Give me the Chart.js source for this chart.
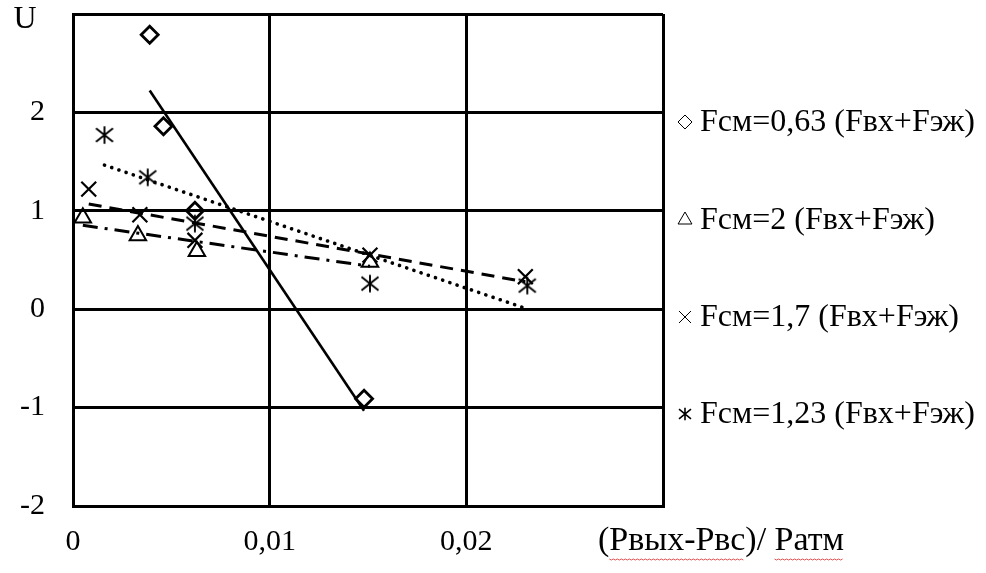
<!DOCTYPE html>
<html><head><meta charset="utf-8">
<script src="https://cdn.jsdelivr.net/npm/chart.js@4.4.0/dist/chart.umd.min.js"></script>
<style>html,body{margin:0;padding:0;background:#fff}canvas{display:block}</style>
</head><body>
<canvas id="c" width="986" height="573"></canvas>
<script>
// ---- data ----
const seriesLabels = ['Fсм=0,63 (Fвх+Fэж)', 'Fсм=2 (Fвх+Fэж)', 'Fсм=1,7 (Fвх+Fэж)', 'Fсм=1,23 (Fвх+Fэж)'];
const x063 = [0.0039, 0.0046, 0.0062, 0.0148];
const u063 = [2.79, 1.86, 1.00, -0.91];
const x2   = [0.0005, 0.0033, 0.0063, 0.0151];
const u2   = [0.93, 0.75, 0.59, 0.48];
const x17  = [0.0008, 0.0034, 0.0062, 0.0151, 0.0230];
const u17  = [1.22, 0.96, 0.70, 0.55, 0.33];
const x123 = [0.0016, 0.0038, 0.0062, 0.0151, 0.0231];
const u123 = [1.77, 1.34, 0.87, 0.26, 0.24];
const xTickValues = [0, 0.01, 0.02, 0.03];
const xTickLabels = ['0', '0,01', '0,02', ''];
const yTickValues = [-2, -1, 0, 1, 2, 3];
const yTickLabels = ['-2', '-1', '0', '1', '2', ''];
const xTitle = '(Рвых-Рвс)/ Ратм';
const yTitle = 'U';

const FONT = "'Liberation Serif', 'Times New Roman', serif";
const FS = 30;   // tick labels
const LFS = 32;  // legend
const TFS = 34;  // axis titles

function pts(xs, ys) { return xs.map((x, i) => ({x: x, y: ys[i]})); }
function trend(xs, ys) {
  const n = xs.length;
  const mx = xs.reduce((a, b) => a + b, 0) / n;
  const my = ys.reduce((a, b) => a + b, 0) / n;
  let sxy = 0, sxx = 0;
  for (let i = 0; i < n; i++) { sxy += (xs[i] - mx) * (ys[i] - my); sxx += (xs[i] - mx) ** 2; }
  const b = sxy / sxx, a = my - b * mx;
  const x0 = Math.min(...xs), x1 = Math.max(...xs);
  return [{x: x0, y: a + b * x0}, {x: x1, y: a + b * x1}];
}
function asterisk(size, lw, rv, dx, dy) {
  const c = document.createElement('canvas');
  c.width = size; c.height = size;
  const g = c.getContext('2d');
  g.strokeStyle = '#000'; g.lineWidth = lw; g.lineCap = 'butt';
  const m = size / 2;
  g.beginPath();
  g.moveTo(m, m - rv); g.lineTo(m, m + rv);
  g.moveTo(m - dx, m - dy); g.lineTo(m + dx, m + dy);
  g.moveTo(m + dx, m - dy); g.lineTo(m - dx, m + dy);
  g.stroke();
  return c;
}
const astBig = asterisk(22, 1.9, 8.7, 8.5, 6.8);
const astSmall = asterisk(16, 1.6, 6.3, 6, 4.8);

const markerStyles = [
  {pointStyle: 'rectRot', radius: 8.5, borderWidth: 2.8, lr: 7, lw: 2.8},
  {pointStyle: 'triangle', radius: 9.5, borderWidth: 2, lr: 8, lw: 1.6},
  {pointStyle: 'crossRot', radius: 10.5, borderWidth: 2.2, lr: 8.5, lw: 1.8},
  {pointStyle: astBig, radius: 9, borderWidth: 2, lr: 7, lw: 1.8, small: astSmall}
];
const scatterData = [pts(x063, u063), pts(x2, u2), pts(x17, u17), pts(x123, u123)];
const trendData = [trend(x063, u063), trend(x2, u2), trend(x17, u17), trend(x123, u123)];
const trendStyles = [
  {borderDash: [], borderWidth: 2.6, cap: 'butt'},
  {borderDash: [15, 7, 3, 7], borderWidth: 3, cap: 'butt'},
  {borderDash: [13, 8], borderWidth: 3, cap: 'butt'},
  {borderDash: [0.1, 7.5], borderWidth: 3.6, cap: 'round'}
];

const datasets = [];
scatterData.forEach((d, i) => {
  const m = markerStyles[i];
  datasets.push({
    label: seriesLabels[i], data: d, showLine: false,
    pointStyle: m.pointStyle, pointRadius: m.radius, pointHoverRadius: m.radius,
    pointBorderWidth: m.borderWidth, pointBorderColor: '#000', pointBackgroundColor: 'rgba(0,0,0,0)',
    order: 1
  });
});
trendData.forEach((d, i) => {
  const s = trendStyles[i];
  datasets.push({
    label: 'trend ' + i, data: d, showLine: true, pointRadius: 0, pointHoverRadius: 0,
    borderColor: '#000', borderWidth: s.borderWidth, borderDash: s.borderDash,
    borderCapStyle: s.cap, fill: false, order: 2
  });
});

const decor = {
  id: 'decor',
  beforeDraw(chart) {
    const ctx = chart.ctx;
    ctx.save(); ctx.fillStyle = '#fff'; ctx.fillRect(0, 0, chart.width, chart.height); ctx.restore();
  },
  afterDraw(chart) {
    const ctx = chart.ctx;
    ctx.save();
    ctx.fillStyle = '#000';
    ctx.textBaseline = 'middle';
    // y title
    ctx.font = LFS + 'px ' + FONT;
    ctx.textAlign = 'center';
    ctx.fillText(yTitle, 25, 20);
    // x title
    ctx.font = TFS + 'px ' + FONT;
    ctx.textAlign = 'left';
    const tx = 598, ty = 541;
    ctx.fillText(xTitle, tx, ty);
    // spell-check squiggles
    ctx.strokeStyle = '#e05050'; ctx.lineWidth = 1;
    const w1s = tx + ctx.measureText('(').width;
    const w1e = tx + ctx.measureText('(Рвых-Рвс').width;
    const w2s = tx + ctx.measureText('(Рвых-Рвс)/ ').width;
    const w2e = tx + ctx.measureText(xTitle).width;
    [[w1s, w1e], [w2s, w2e]].forEach(([a, b]) => {
      ctx.beginPath();
      for (let x = a, k = 0; x <= b; x += 2, k++) { const y = ty + 18 + (k % 2); if (k === 0) ctx.moveTo(x, y); else ctx.lineTo(x, y); }
      ctx.stroke();
    });
    // legend
    ctx.font = LFS + 'px ' + FONT;
    const legendY = [122, 220, 317, 414];
    seriesLabels.forEach((lab, i) => {
      const m = markerStyles[i];
      const y = legendY[i];
      ctx.save();
      ctx.strokeStyle = '#000'; ctx.fillStyle = 'rgba(0,0,0,0)';
      Chart.helpers.drawPoint(ctx, {pointStyle: m.small || m.pointStyle, radius: m.lr, borderWidth: m.lw, rotation: 0}, 685, y);
      ctx.restore();
      ctx.fillStyle = '#000';
      ctx.textAlign = 'left';
      ctx.fillText(lab, 700, y + 1);
    });
    ctx.restore();
  }
};

new Chart(document.getElementById('c'), {
  type: 'scatter',
  data: {datasets: datasets},
  options: {
    responsive: false, animation: false, devicePixelRatio: 1,
    layout: {padding: {left: 0, right: 323, top: 14, bottom: 0}},
    plugins: {legend: {display: false}, tooltip: {enabled: false}},
    scales: {
      x: {
        type: 'linear', min: 0, max: 0.03,
        afterBuildTicks: s => { s.ticks = xTickValues.map(v => ({value: v})); },
        afterFit: s => { s.height = 67; s.paddingLeft = 0; s.paddingRight = 0; s.paddingTop = 0; s.paddingBottom = 0; },
        ticks: {
          callback: (v) => xTickLabels[xTickValues.indexOf(v)] ?? '',
          color: '#000', font: {family: FONT, size: FS}, padding: 18, maxRotation: 0, autoSkip: false
        },
        grid: {color: '#000', lineWidth: 3, drawTicks: false},
        border: {display: true, color: '#000', width: 3}
      },
      y: {
        type: 'linear', min: -2, max: 3,
        afterBuildTicks: s => { s.ticks = yTickValues.map(v => ({value: v})); },
        afterFit: s => { s.width = 73; s.paddingLeft = 0; s.paddingRight = 0; s.paddingTop = 0; s.paddingBottom = 0; },
        ticks: {
          callback: (v) => yTickLabels[yTickValues.indexOf(v)] ?? '',
          color: '#000', font: {family: FONT, size: FS}, padding: 28, autoSkip: false
        },
        grid: {color: '#000', lineWidth: 3, drawTicks: false},
        border: {display: true, color: '#000', width: 3}
      }
    }
  },
  plugins: [decor]
});
</script>
</body></html>
